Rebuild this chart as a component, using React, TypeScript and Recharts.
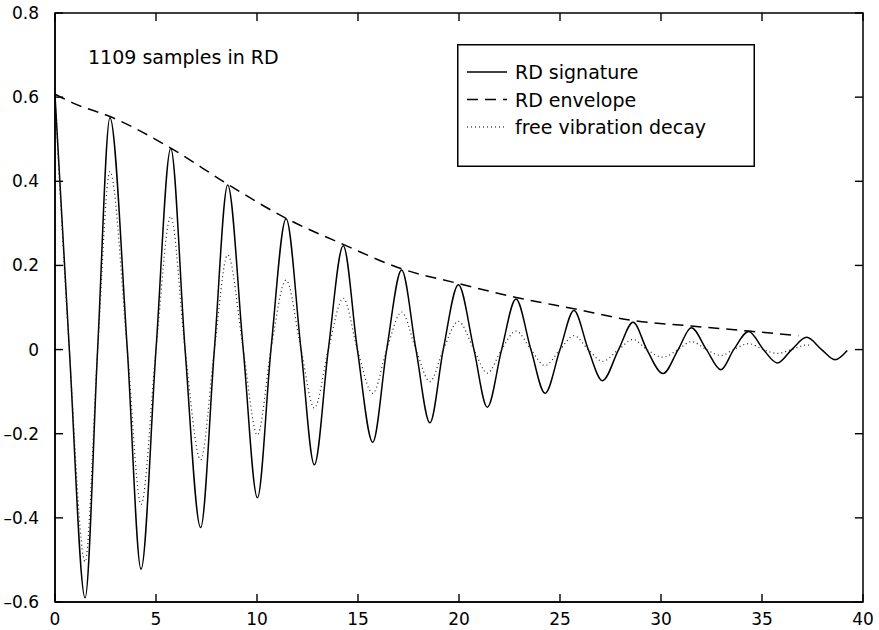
import React from "react";
import { LineChart, Line, XAxis, YAxis, ReferenceArea, ReferenceLine } from "recharts";

// x positions of peaks, troughs and zero crossings of the RD signature
const sigX = [
  0, 0.71, 1.49, 2.11, 2.72, 3.58, 4.26, 5.0, 5.73, 6.44, 7.21, 7.89, 8.55, 9.32, 10.02, 10.69,
  11.44, 12.18, 12.84, 13.53, 14.27, 14.97, 15.73, 16.42, 17.16, 17.87, 18.56, 19.22, 19.97,
  20.74, 21.4, 22.11, 22.82, 23.56, 24.26, 25.0, 25.69, 26.4, 27.1, 27.9, 28.62, 29.3, 30.1,
  30.85, 31.5, 32.25, 32.96, 33.6, 34.34, 35.07, 35.76, 36.47, 37.21, 37.95, 38.61, 39.22,
];
const sigY = [
  0.605, 0, -0.59, 0, 0.551, 0, -0.522, 0, 0.478, 0, -0.423, 0, 0.391, 0, -0.352, 0,
  0.311, 0, -0.274, 0, 0.247, 0, -0.22, 0, 0.189, 0, -0.174, 0, 0.154,
  0, -0.137, 0, 0.12, 0, -0.104, 0, 0.093, 0, -0.074, 0, 0.065, 0, -0.057,
  0, 0.052, 0, -0.048, 0, 0.043, 0, -0.032, 0, 0.029, 0, -0.024, -0.002,
];

const envX = [0, 0.99, 2.72, 5.73, 8.55, 11.44, 14.27, 17.16, 19.97, 22.82, 25.69, 28.62, 31.5, 34.34, 36.8];
const envY = [0.607, 0.584, 0.554, 0.479, 0.393, 0.312, 0.25, 0.192, 0.157, 0.124, 0.097, 0.069, 0.056, 0.044, 0.033];

const freeX = [
  0, 0.71, 1.49, 2.11, 2.72, 3.58, 4.26, 5.0, 5.73, 6.44, 7.21, 7.89, 8.55, 9.32, 10.02, 10.69,
  11.44, 12.18, 12.84, 13.53, 14.27, 14.97, 15.73, 16.42, 17.16, 17.87, 18.56, 19.22, 19.97,
  20.74, 21.4, 22.11, 22.82, 23.56, 24.26, 25.0, 25.69, 26.4, 27.1, 27.9, 28.62, 29.3, 30.1,
  30.85, 31.5, 32.25, 32.96, 33.6, 34.34, 35.07, 35.76, 36.47, 37.21, 37.4,
];
const freeY = [
  0.6, 0, -0.504, 0, 0.423, 0, -0.368, 0, 0.316, 0, -0.262, 0, 0.225, 0, -0.203, 0,
  0.165, 0, -0.139, 0, 0.122, 0, -0.104, 0, 0.089, 0, -0.076, 0, 0.067,
  0, -0.056, 0, 0.044, 0, -0.038, 0, 0.033, 0, -0.028, 0, 0.024, 0, -0.018,
  0, 0.019, 0, -0.014, 0, 0.014, 0, -0.009, 0, 0.011, 0.01,
];

const xTicks = [0, 5, 10, 15, 20, 25, 30, 35, 40];
const yTicks = [-0.6, -0.4, -0.2, 0, 0.2, 0.4, 0.6, 0.8];

const zip = (xs: number[], ys: number[]) => xs.map((x, i) => ({ x, y: ys[i] }));
const signature = zip(sigX, sigY);
const envelope = zip(envX, envY);
const freeDecay = zip(freeX, freeY);

const X_DOMAIN: [number, number] = [0, 40];
const Y_DOMAIN: [number, number] = [-0.6, 0.8];
// inward tick length expressed in data units (about 8px)
const TICK_DX = 0.4;
const TICK_DY = 0.019;

const FONT = "DejaVu Sans";
const W = 879;
const H = 630;
const M = { top: 13, right: 16, bottom: 0, left: 0 };
const XAXIS_H = 28;
const YAXIS_W = 55;
const LEFT = M.left + YAXIS_W;
const BOTTOM = H - M.bottom - XAXIS_H;

const fmtY = (v: number) => (v === 0 ? "0" : v < 0 ? "–" + Math.abs(v).toFixed(1) : v.toFixed(1));

const BottomTick = ({ x, payload }: any) => (
  <text x={x} y={BOTTOM + 23} textAnchor="middle" fontSize={17} fontFamily={FONT} fill="#000">
    {payload.value}
  </text>
);
const LeftTick = ({ y, payload }: any) => (
  <text x={LEFT - 16} y={y} dy={6} textAnchor="end" fontSize={17} fontFamily={FONT} fill="#000">
    {fmtY(payload.value)}
  </text>
);

// tick mark segments on all four edges, pointing inward (matlab style)
const tickSegments = [
  ...yTicks.map((v) => [{ x: X_DOMAIN[0], y: v }, { x: X_DOMAIN[0] + TICK_DX, y: v }]),
  ...yTicks.map((v) => [{ x: X_DOMAIN[1], y: v }, { x: X_DOMAIN[1] - TICK_DX, y: v }]),
  ...xTicks.map((t) => [{ x: t, y: Y_DOMAIN[0] }, { x: t, y: Y_DOMAIN[0] + TICK_DY }]),
  ...xTicks.map((t) => [{ x: t, y: Y_DOMAIN[1] }, { x: t, y: Y_DOMAIN[1] - TICK_DY }]),
];

const legendItems = [
  { name: "RD signature", dash: undefined as string | undefined, width: 1.5 },
  { name: "RD envelope", dash: "11 7", width: 1.5 },
  { name: "free vibration decay", dash: "1 3", width: 1.2 },
];

const LegendBox = () => (
  <svg width={298} height={123} style={{ display: "block" }}>
    <rect x={0.75} y={0.75} width={296.5} height={121.5} fill="#fff" stroke="#000" strokeWidth={1.5} />
    {legendItems.map((it, i) => {
      const cy = 28 + i * 27.5;
      return (
        <g key={it.name}>
          <line x1={10} y1={cy} x2={50} y2={cy} stroke="#000" strokeWidth={it.width} strokeDasharray={it.dash} />
          <text x={58} y={cy + 7} fontSize={19} fontFamily={FONT} fill="#000">
            {it.name}
          </text>
        </g>
      );
    })}
  </svg>
);

const axisLine = { stroke: "#000", strokeWidth: 1.5 };

export default function App() {
  return (
    <div style={{ position: "absolute", left: 0, top: 0, width: W, height: H, background: "#fff" }}>
      <LineChart width={W} height={H} margin={M}>
        <XAxis
          type="number"
          dataKey="x"
          domain={X_DOMAIN}
          ticks={xTicks}
          height={XAXIS_H}
          tickSize={0}
          tickMargin={0}
          tickLine={false}
          axisLine={axisLine}
          tick={<BottomTick />}
          interval={0}
        />
        <YAxis
          type="number"
          domain={Y_DOMAIN}
          ticks={yTicks}
          width={YAXIS_W}
          tickSize={0}
          tickMargin={0}
          tickLine={false}
          axisLine={axisLine}
          tick={<LeftTick />}
          interval={0}
        />
        <ReferenceArea
          x1={X_DOMAIN[0]}
          x2={X_DOMAIN[1]}
          y1={Y_DOMAIN[0]}
          y2={Y_DOMAIN[1]}
          fill="none"
          fillOpacity={0}
          stroke="#000"
          strokeWidth={1.5}
          ifOverflow="visible"
        />
        {tickSegments.map((seg, i) => (
          <ReferenceLine key={i} segment={seg} stroke="#000" strokeWidth={1.4} ifOverflow="visible" />
        ))}
        <Line
          data={signature}
          dataKey="y"
          name="RD signature"
          type="monotone"
          stroke="#000"
          strokeWidth={1.5}
          dot={false}
          isAnimationActive={false}
        />
        <Line
          data={envelope}
          dataKey="y"
          name="RD envelope"
          type="monotone"
          stroke="#000"
          strokeWidth={1.5}
          strokeDasharray="11 7"
          dot={false}
          isAnimationActive={false}
        />
        <Line
          data={freeDecay}
          dataKey="y"
          name="free vibration decay"
          type="monotone"
          stroke="#222"
          strokeWidth={1.2}
          strokeDasharray="1 3"
          dot={false}
          isAnimationActive={false}
        />
      </LineChart>
      <div style={{ position: "absolute", left: 457, top: 44 }}>
        <LegendBox />
      </div>
      <div
        style={{
          position: "absolute",
          left: 88,
          top: 48,
          fontFamily: FONT,
          fontSize: 19,
          lineHeight: "19px",
          whiteSpace: "nowrap",
          color: "#000",
        }}
      >
        1109 samples in RD
      </div>
    </div>
  );
}
